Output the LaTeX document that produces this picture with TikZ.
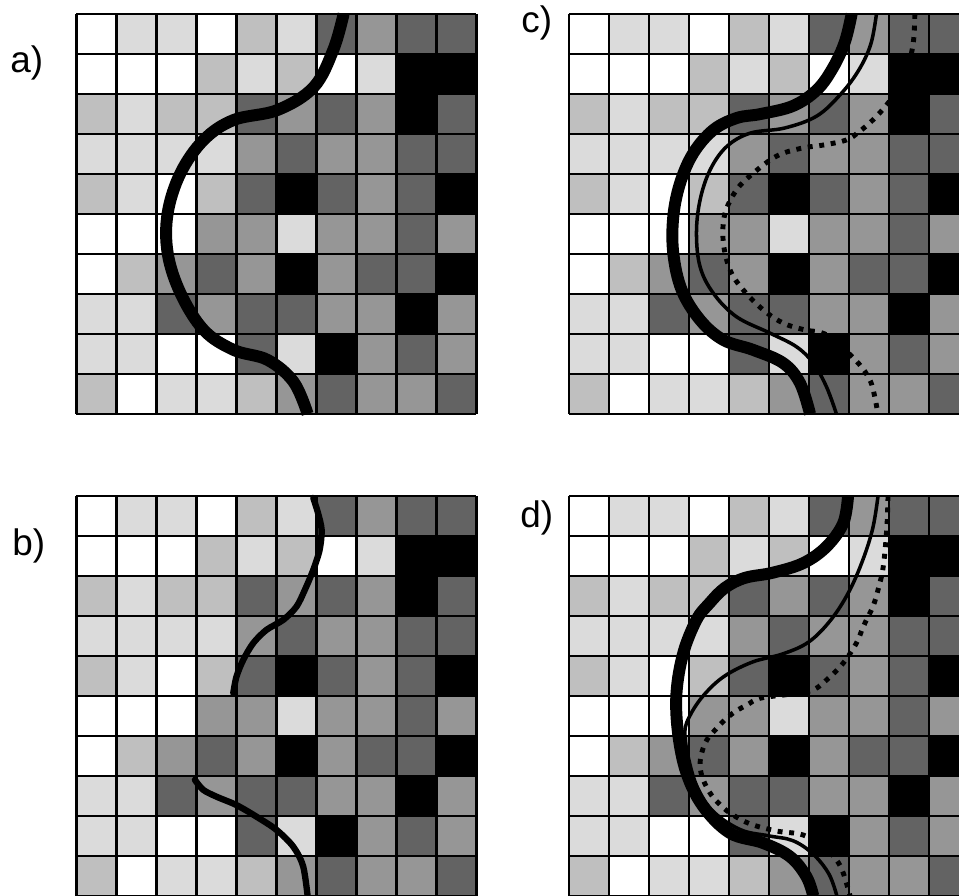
\documentclass[tikz,border=0pt]{standalone}
\usepackage{fontspec}
\setmainfont{Liberation Sans}
\definecolor{gW}{gray}{1}
\definecolor{gL}{gray}{0.86}
\definecolor{gM}{gray}{0.75}
\definecolor{gN}{gray}{0.59}
\definecolor{gD}{gray}{0.39}
\definecolor{gK}{gray}{0}
\newcommand\cellrows{{W,L,L,W,M,L,D,N,D,D},{W,W,W,M,L,M,W,L,K,K},{M,L,M,M,D,N,D,N,K,D},{L,L,L,L,N,D,N,N,D,D},{M,L,W,M,D,K,D,N,D,K},{W,W,W,N,N,L,N,N,D,N},{W,M,N,D,N,K,N,D,D,K},{L,L,D,N,D,D,N,N,K,N},{L,L,W,W,D,L,K,N,D,N},{M,W,L,L,M,N,D,N,N,D}}
\newcommand\drawcells{%
  \foreach \rowlist [count=\ri from 0] in \cellrows {%
    \foreach \cc [count=\ci from 0] in \rowlist {%
      \fill[fill=g\cc] (\ci,\ri) rectangle ++(1,1);
    }
  }
  \foreach \k in {0,...,10} {%
    \draw[gridline] (\k,0) -- (\k,10);
    \draw[gridline] (0,\k) -- (10,\k);
  }
}
\tikzset{
  gridline/.style={line width=1.4pt, black},
  bigcurve/.style={line width=6.8pt, black},
  slimcurve/.style={line width=2pt, black},
  dotcurve/.style={line width=2.8pt, black, dash pattern=on 2.8pt off 3.8pt},
  handcurve/.style={line width=3.6pt, black, line cap=round},
  lbl/.style={font=\fontsize{21}{25}\selectfont, inner sep=0pt, anchor=base west},
  panel/.style={x=0.8cm, y=-0.8cm}
}
\begin{document}
\begin{tikzpicture}[x=0.02cm, y=-0.02cm]
\useasboundingbox (0,0) rectangle (959,895);
\fill[white] (0,0) rectangle (959,895);
\clip (0,0) rectangle (959,895);

% panel a
\begin{scope}[shift={(1.53cm,-0.28cm)}, panel]
\drawcells
\draw[bigcurve] plot[smooth, tension=0.6] coordinates {(6.68,0) (6.42,0.9) (5.93,1.83) (5.03,2.4) (3.93,2.65) (3.18,3.15) (2.6,3.98) (2.28,4.98) (2.28,5.98) (2.6,6.98) (3.18,7.9) (3.93,8.4) (4.78,8.65) (5.43,9.2) (5.78,10)};
\end{scope}

% panel c
\begin{scope}[shift={(11.38cm,-0.28cm)}, panel]
\drawcells
\draw[dotcurve] plot[smooth, tension=0.6] coordinates {(8.65,0) (8.61,0.73) (8.45,1.4) (8.2,1.9) (7.94,2.28) (7.6,2.65) (7.25,2.95) (6.94,3.15) (6.4,3.27) (5.8,3.36) (5.2,3.55) (4.61,3.98) (4.19,4.4) (3.9,5.0) (3.86,5.7) (4.03,6.4) (4.36,6.9) (4.86,7.4) (5.36,7.73) (5.9,7.9) (6.4,8.0) (6.9,8.4) (7.28,8.78) (7.48,9.07) (7.6,9.36) (7.73,10)};
\draw[slimcurve] plot[smooth, tension=0.6] coordinates {(7.69,0) (7.55,0.75) (7.25,1.4) (6.8,2) (6.2,2.55) (5.4,2.85) (4.53,2.98) (3.94,3.32) (3.53,3.9) (3.28,4.65) (3.19,5.48) (3.28,6.32) (3.61,6.98) (4.19,7.57) (5.03,7.98) (5.69,8.32) (6.11,8.73) (6.44,9.32) (6.69,10)};
\draw[bigcurve] plot[smooth, tension=0.6] coordinates {(7.07,0) (6.9,0.7) (6.6,1.35) (6.2,1.9) (5.6,2.3) (4.8,2.5) (4.2,2.6) (3.61,2.9) (3.11,3.48) (2.78,4.23) (2.61,5.07) (2.61,5.98) (2.82,6.9) (3.28,7.65) (3.86,8.15) (4.61,8.4) (5.36,8.73) (5.78,9.23) (6.03,10)};
\end{scope}

% panel b
\begin{scope}[shift={(1.53cm,-9.92cm)}, panel]
\drawcells
\draw[handcurve] plot[smooth, tension=0.5] coordinates {(5.92,0.05) (6.04,0.43) (6.13,0.85) (6.08,1.35) (5.92,1.85) (5.71,2.35) (5.5,2.77) (5.17,3.1) (4.75,3.35) (4.42,3.68) (4.17,4.1) (4.0,4.52) (3.92,4.93)};
\draw[handcurve] plot[smooth, tension=0.5] coordinates {(2.96,7.1) (3.17,7.35) (3.5,7.52) (4,7.73) (4.5,8.02) (5,8.35) (5.42,8.77) (5.67,9.27) (5.79,10.1)};
\end{scope}

% panel d
\begin{scope}[shift={(11.38cm,-9.92cm)}, panel]
\drawcells
\draw[dotcurve] plot[smooth, tension=0.6] coordinates {(7.98,0) (7.95,0.8) (7.86,1.77) (7.73,2.35) (7.6,2.77) (7.36,3.27) (7.19,3.68) (6.86,4.18) (6.53,4.52) (6.11,4.85) (5.5,4.96) (4.78,5.06) (4.45,5.23) (4.16,5.39) (3.9,5.6) (3.66,5.85) (3.45,6.1) (3.32,6.43) (3.28,6.77) (3.36,7.1) (3.53,7.43) (3.74,7.68) (4.03,7.93) (4.53,8.2) (5.2,8.38) (5.86,8.48) (6.4,8.8) (6.69,9.1) (6.86,9.43) (7.03,10)};
\draw[slimcurve] plot[smooth, tension=0.6] coordinates {(7.73,0) (7.6,0.8) (7.35,1.6) (7.0,2.4) (6.55,3.1) (6.0,3.65) (5.35,3.95) (4.6,4.15) (3.9,4.5) (3.4,4.95) (3.05,5.45) (2.9,5.9) (3.0,6.6) (3.22,7.3) (3.62,7.9) (4.3,8.35) (5.0,8.5) (5.6,8.62) (6.1,8.95) (6.5,9.45) (6.7,10)};
\draw[bigcurve] plot[smooth, tension=0.6] coordinates {(6.98,0) (6.86,0.68) (6.44,1.27) (5.86,1.68) (5.1,1.92) (4.4,2.05) (3.9,2.3) (3.5,2.7) (3.19,3.1) (2.86,3.93) (2.69,4.93) (2.73,5.93) (2.94,6.93) (3.36,7.77) (4.03,8.43) (4.86,8.68) (5.53,9.02) (5.94,9.52) (6.11,10)};
\end{scope}

\node[lbl] (la) at (10,73) {a)};
\node[lbl] (lb) at (12,555) {b)};
\node[lbl] (lc) at (521,33) {c)};
\node[lbl] (ld) at (520,527) {d)};
\end{tikzpicture}
\end{document}
